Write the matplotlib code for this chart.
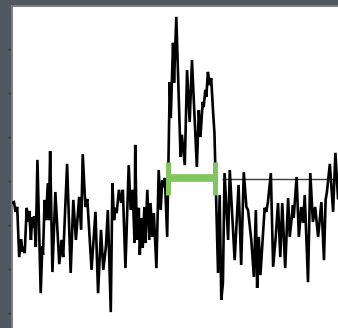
import matplotlib
matplotlib.use("Agg")
import matplotlib.pyplot as plt

# Recorded trace: time (% of window) and amplitude (a.u.)
time = [0.0, 0.6, 1.1, 1.6, 2.2, 2.8, 3.2, 3.6, 3.9, 4.5, 5.0, 5.3, 5.8, 6.2, 6.7, 6.8,
        7.3, 7.8, 8.8, 9.3, 9.5, 10.0, 10.4, 11.0, 11.3, 11.7, 12.4, 13.3, 14.5, 15.2,
        15.7, 16.9, 18.0, 18.8, 19.6, 20.6, 21.2, 21.7, 22.5, 23.1, 24.4, 25.6, 26.4,
        27.3, 28.0, 28.8, 29.4, 30.3, 30.8, 31.3, 31.7, 32.1, 32.8, 33.5, 34.0, 34.8,
        35.8, 36.4, 37.0, 37.6, 37.8, 38.3, 38.9, 39.2, 39.7, 40.1, 40.6, 40.9, 41.5,
        42.1, 42.5, 43.0, 43.5, 44.3, 45.0, 45.6, 46.1, 46.5, 46.9, 47.6, 48.4, 48.7,
        49.4, 49.7, 50.4, 51.7, 52.1, 53.0, 53.7, 54.5, 55.2, 56.7, 57.3, 57.8, 58.5,
        58.8, 59.3, 59.6, 60.1, 60.6, 61.1, 61.7, 62.1, 63.2, 63.7, 64.2, 64.7, 65.2,
        66.3, 66.8, 68.3, 69.5, 70.3, 71.1, 71.9, 72.4, 73.4, 74.2, 74.8, 75.2, 75.7,
        76.2, 77.5, 78.0, 78.5, 79.4, 80.1, 80.9, 81.6, 82.3, 82.9, 83.8, 84.7, 85.2,
        86.2, 86.4, 87.3, 88.0, 88.7, 89.3, 89.8, 90.8, 91.5, 92.3, 93.0, 93.9, 94.9,
        95.7, 96.2, 96.6, 97.5, 98.5, 99.2, 100.0]
signal = [25.0, 25.2, 23.0, 24.1, 12.7, 16.8, 13.9, 15.0, 13.6, 23.9, 20.7, 23.2, 16.6,
          21.8, 19.5, 22.0, 15.0, 34.8, 4.5, 15.2, 13.2, 25.7, 21.1, 29.5, 21.1, 36.8,
          9.3, 27.5, 11.1, 16.6, 12.7, 33.9, 9.1, 25.7, 16.6, 26.4, 18.9, 36.1, 24.1,
          25.9, 9.8, 23.0, 4.5, 18.9, 9.8, 15.0, 23.4, 0.2, 29.5, 21.1, 23.9, 22.7, 28.0,
          25.0, 28.0, 10.2, 33.6, 23.4, 28.0, 15.9, 38.2, 16.6, 23.9, 13.2, 21.6, 14.8,
          24.1, 15.9, 28.0, 16.6, 25.0, 17.3, 22.7, 10.2, 32.5, 23.4, 30.2, 28.6, 30.7,
          17.3, 52.5, 44.3, 61.4, 52.3, 67.3, 35.5, 40.5, 33.6, 55.2, 43.4, 57.5, 33.2,
          46.1, 40.0, 48.0, 46.8, 50.7, 49.1, 54.8, 51.8, 53.4, 45.5, 40.9, 9.1, 26.8,
          3.0, 6.8, 31.8, 16.6, 32.5, 12.0, 29.1, 10.9, 32.0, 24.1, 23.4, 16.6, 8.2,
          23.4, 5.7, 17.3, 8.6, 23.9, 23.0, 25.2, 31.8, 10.5, 17.3, 25.0, 12.7, 25.0,
          10.2, 26.1, 17.3, 24.5, 21.6, 30.9, 17.3, 24.1, 20.5, 26.8, 7.0, 31.8, 20.7,
          24.1, 17.3, 25.2, 12.0, 25.7, 27.5, 33.9, 23.0, 36.4, 26.1]

# Detected event (onset/offset) and detection threshold
event_onset = 47.9
event_offset = 62.4
event_level = 30.7
event_cap_low = 26.8
event_cap_high = 34.3
threshold_level = 30.5
threshold_start = 64.4
threshold_end = 100.0

y_ticks = [0, 10, 20, 30, 40, 50, 60]

fig = plt.figure(figsize=(3.38, 3.28), dpi=100, facecolor="#50575f")
ax = fig.add_axes([12 / 338, 0.0, 326 / 338, 322 / 328])
ax.set_facecolor("white")

ax.plot([threshold_start, threshold_end], [threshold_level, threshold_level],
        color="#3a3a3a", lw=1.0, zorder=2, solid_capstyle="butt")
ax.plot(time, signal, color="black", lw=1.9, zorder=3, solid_joinstyle="miter")

green = "#80c65c"
ax.plot([event_onset, event_offset], [event_level, event_level],
        color=green, lw=5.5, zorder=4, solid_capstyle="butt")
for xe in (event_onset, event_offset):
    ax.plot([xe, xe], [event_cap_low, event_cap_high], color=green, lw=3.6,
            zorder=4, solid_capstyle="butt")

ax.set_xlim(0, 100)
ax.set_ylim(-3.41, 69.77)
ax.set_yticks(y_ticks)
ax.set_yticklabels([])
ax.set_xticks([])
ax.tick_params(axis="y", direction="out", length=3, width=1, color="#353535")

for side in ("right", "bottom"):
    ax.spines[side].set_visible(False)
for side in ("left", "top"):
    ax.spines[side].set_color("#7c7e82")
    ax.spines[side].set_linewidth(1.4)

fig.savefig("out.png", dpi=100, facecolor=fig.get_facecolor())
